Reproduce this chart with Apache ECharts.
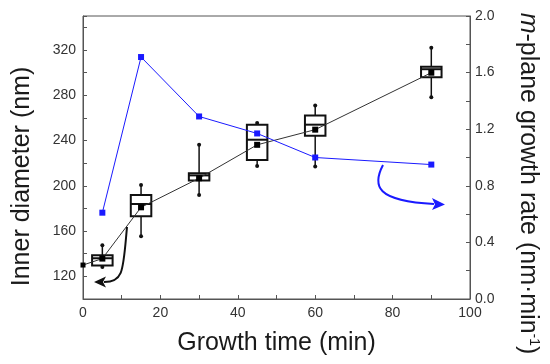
<!DOCTYPE html>
<html>
<head>
<meta charset="utf-8">
<script src="https://cdn.jsdelivr.net/npm/echarts@6/dist/echarts.min.js"></script>
<style>
html,body{margin:0;padding:0;background:#fff;}
#c{width:550px;height:364px;}
</style>
</head>
<body>
<div id="c"></div>
<script>
// ---- data ----
var times = [5, 15, 30, 45, 60, 90];
var whiskerHigh = [147.5, 200.7, 236.2, 255.5, 270.9, 322];
var q3 = [138.6, 191.9, 211.1, 254, 262, 305.2];
var median = [136, 183.9, 209.2, 240.7, 254, 303];
var q1 = [129.7, 173.2, 204.6, 222.9, 244.2, 296];
var whiskerLow = [128.2, 155.5, 191.9, 217.6, 217, 278.2];
var meanTimes = [0, 5, 15, 30, 45, 60, 90];
var meanDiam = [130, 135.7, 181, 206.7, 236.2, 249.6, 299.9];
var rateTimes = [5, 15, 30, 45, 60, 90];
var rate = [0.61, 1.71, 1.29, 1.17, 1.0, 0.95];

var FONT = '"Liberation Sans", Arial, sans-serif';
var BLUE = '#1a1aff';

var boxData = times.map(function (t, i) {
  return [t, whiskerLow[i], q1[i], median[i], q3[i], whiskerHigh[i]];
});
var meanData = meanTimes.map(function (t, i) { return [t, meanDiam[i]]; });
var rateData = rateTimes.map(function (t, i) { return [t, rate[i]]; });

var chart = echarts.init(document.getElementById('c'), null, {renderer: 'canvas'});

var tickLabel = {fontFamily: FONT, fontSize: 14, color: '#333'};

var option = {
  animation: false,
  backgroundColor: '#fff',
  grid: {left: 83, right: 80, top: 16, bottom: 65, show: true, borderColor: '#555', borderWidth: 1,
    containLabel: false, outerBoundsMode: 'none'},
  xAxis: [{
    type: 'value', min: 0, max: 100, interval: 10,
    axisLine: {show: true, lineStyle: {color: '#555', width: 1}},
    axisTick: {show: true, inside: true, length: 4, lineStyle: {color: '#555'}},
    splitLine: {show: false},
    axisLabel: Object.assign({}, tickLabel, {margin: 7, interval: 0,
      formatter: function (v) { return (Math.round(v) % 20 === 0) ? String(Math.round(v)) : ''; }}),
    name: 'Growth time (min)', nameLocation: 'middle', nameGap: 32,
    nameTextStyle: {fontFamily: FONT, fontSize: 25, color: '#1a1a1a'}
  }],
  yAxis: [{
    type: 'value', min: 100, max: 350, interval: 20, position: 'left',
    axisLine: {show: true, lineStyle: {color: '#555', width: 1}},
    axisTick: {show: true, inside: true, length: 4, lineStyle: {color: '#555'}},
    splitLine: {show: false},
    axisLabel: Object.assign({}, tickLabel, {margin: 7,
      formatter: function (v) { v = Math.round(v); return (v >= 120 && v <= 320 && (v - 120) % 40 === 0) ? String(v) : ''; }}),
    name: 'Inner diameter (nm)', nameLocation: 'middle', nameGap: 48,
    nameTextStyle: {fontFamily: FONT, fontSize: 25, color: '#1a1a1a', padding: [0, 38, 0, 0]}
  }, {
    type: 'value', min: 0, max: 2, interval: 0.2, position: 'right',
    axisLine: {show: true, lineStyle: {color: '#555', width: 1}},
    axisTick: {show: true, inside: true, length: 4, lineStyle: {color: '#555'}},
    splitLine: {show: false},
    axisLabel: Object.assign({}, tickLabel, {margin: 5,
      formatter: function (v) { var k = Math.round(v * 10); return (k % 4 === 0) ? (k / 10).toFixed(1) : ''; }}),
    name: '{i|m}-plane growth rate (nm·min{sup|-1})', nameLocation: 'middle', nameGap: 45, nameRotate: -90,
    nameTextStyle: {fontFamily: FONT, fontSize: 25, color: '#1a1a1a', padding: [0, 0, 0, 52],
      rich: {
        i: {fontFamily: FONT, fontSize: 25, fontStyle: 'italic', color: '#1a1a1a'},
        sup: {fontFamily: FONT, fontSize: 14, color: '#1a1a1a', verticalAlign: 'top', padding: [0, 0, 12, 0]}
      }}
  }],
  series: [{
    type: 'custom',
    xAxisIndex: 0, yAxisIndex: 0,
    data: boxData,
    z: 2,
    renderItem: function (params, api) {
      var x = api.value(0);
      var pLow = api.coord([x, api.value(1)]);
      var pQ1 = api.coord([x, api.value(2)]);
      var pMed = api.coord([x, api.value(3)]);
      var pQ3 = api.coord([x, api.value(4)]);
      var pHigh = api.coord([x, api.value(5)]);
      var w = api.size([5.3, 0])[0];
      var cx = pMed[0];
      return {
        type: 'group',
        children: [
          {type: 'line', shape: {x1: cx, y1: pHigh[1], x2: cx, y2: pLow[1]}, style: {stroke: '#111', lineWidth: 1.5}},
          {type: 'circle', shape: {cx: cx, cy: pHigh[1], r: 2}, style: {fill: '#111'}},
          {type: 'circle', shape: {cx: cx, cy: pLow[1], r: 2}, style: {fill: '#111'}},
          {type: 'rect', shape: {x: cx - w / 2, y: pQ3[1], width: w, height: pQ1[1] - pQ3[1]}, style: {fill: '#fff', stroke: '#111', lineWidth: 2}},
          {type: 'line', shape: {x1: cx - w / 2, y1: pMed[1], x2: cx + w / 2, y2: pMed[1]}, style: {stroke: '#111', lineWidth: 2}}
        ]
      };
    }
  }, {
    type: 'line',
    xAxisIndex: 0, yAxisIndex: 0,
    data: meanData,
    z: 5,
    symbol: 'rect',
    symbolSize: function (v) { return v[0] === 0 ? 5 : 6; },
    lineStyle: {color: '#333', width: 1},
    itemStyle: {color: '#000'}
  }, {
    type: 'line',
    xAxisIndex: 0, yAxisIndex: 1,
    data: rateData,
    z: 6,
    symbol: 'rect',
    symbolSize: 6,
    lineStyle: {color: BLUE, width: 1},
    itemStyle: {color: BLUE}
  }],
  graphic: [
    // black annotation arrow (points to left axis)
    {type: 'bezierCurve', z: 10, shape: {x1: 127, y1: 227, cpx1: 123, cpy1: 270, cpx2: 124, cpy2: 282, x2: 104, y2: 282},
      style: {stroke: '#111', lineWidth: 2, fill: null}},
    {type: 'polygon', z: 10, shape: {points: [[94, 282], [106, 276.5], [103, 282], [106, 287.5]]}, style: {fill: '#111'}},
    // blue annotation arrow (points to right axis)
    {type: 'bezierCurve', z: 10, shape: {x1: 383, y1: 165, cpx1: 372, cpy1: 186, cpx2: 376, cpy2: 201, x2: 434, y2: 204},
      style: {stroke: BLUE, lineWidth: 2, fill: null}},
    {type: 'polygon', z: 10, shape: {points: [[445, 204.5], [432, 198], [435, 204.5], [432, 210]]}, style: {fill: BLUE}}
  ]
};
chart.setOption(option);
</script>
</body>
</html>
